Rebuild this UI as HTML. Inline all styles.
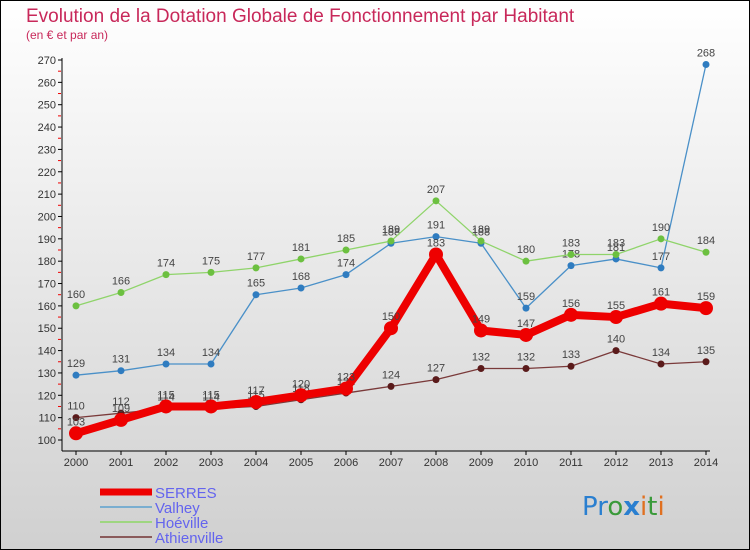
<!DOCTYPE html>
<html><head><meta charset="utf-8"><style>
body{margin:0;width:750px;height:550px;overflow:hidden;font-family:"Liberation Sans",sans-serif}
svg{display:block}
</style></head><body>
<svg id="c" width="750" height="550" xmlns="http://www.w3.org/2000/svg">
<defs><linearGradient id="bg" x1="0" y1="0" x2="0" y2="1"><stop offset="0" stop-color="#ffffff"/><stop offset="1" stop-color="#d0d0d0"/></linearGradient></defs>
<rect x="0.5" y="0.5" width="749" height="549" fill="url(#bg)" stroke="#000"/>
<text x="26" y="22" font-size="19" fill="#c8285a">Evolution de la Dotation Globale de Fonctionnement par Habitant</text>
<text x="26" y="39" font-size="12" fill="#c8285a">(en € et par an)</text>
<g id="axes"></g><g id="series"></g><g id="legend"></g>
<text x="582" y="515" font-size="26" font-family="DejaVu Sans"><tspan fill="#2a7fd0">Pr</tspan><tspan fill="#3a9a3a">o</tspan><tspan fill="#2a7fd0" font-weight="bold">x</tspan><tspan fill="#e07020">i</tspan><tspan fill="#3a9a3a">t</tspan><tspan fill="#e07020">i</tspan></text>
</svg>
<script>
const years=[2000,2001,2002,2003,2004,2005,2006,2007,2008,2009,2010,2011,2012,2013,2014];
const serres=[103,109,115,115,117,120,123,150,183,149,147,156,155,161,159];
const valhey=[129,131,134,134,165,168,174,188,191,188,159,178,181,177,268];
const hoeville=[160,166,174,175,177,181,185,189,207,189,180,183,183,190,184];
const athienville=[110,112,114,114,115,118,121,124,127,132,132,133,140,134,135];
const yTicks=[100,110,120,130,140,150,160,170,180,190,200,210,220,230,240,250,260,270];
const NS='http://www.w3.org/2000/svg';
const x=i=>76+i*45, y=v=>440-(v-100)*380/170;
function mk(t,a,p){const e=document.createElementNS(NS,t);for(const k in a)e.setAttribute(k,a[k]);p.appendChild(e);return e;}
const ax=document.getElementById('axes');
mk('line',{x1:62,y1:58,x2:62,y2:451,stroke:'#000'},ax);
mk('line',{x1:62,y1:451,x2:710,y2:451,stroke:'#000'},ax);
yTicks.forEach(v=>{mk('line',{x1:58,y1:y(v),x2:62,y2:y(v),stroke:'#000'},ax);
 if(v<270) mk('line',{x1:58,y1:y(v+5),x2:61,y2:y(v+5),stroke:'#e00'},ax);
 const t=mk('text',{x:56,y:y(v)+4,'font-size':11,fill:'#333','text-anchor':'end'},ax);t.textContent=v;
 
 });
years.forEach((yr,i)=>{mk('line',{x1:x(i),y1:451,x2:x(i),y2:455,stroke:'#000'},ax);
 const t=mk('text',{x:x(i),y:466,'font-size':11,fill:'#333','text-anchor':'middle'},ax);t.textContent=yr;
 
 });
const sg=document.getElementById('series');
const defs=[['valhey',valhey,'#4a90c8','#2f7cc0',1.3,3.5],['hoeville',hoeville,'#8fd46a','#6cc040',1.3,3.5],['athienville',athienville,'#7a3a3a','#5a1a1a',1.3,3.5],['serres',serres,'#ee0000','#ee0000',8,7]];
defs.forEach(([n,d,c,mc,w,r])=>{
 const g=mk('g',{},sg);
 
 
 mk('polyline',{points:d.map((v,i)=>x(i)+','+y(v)).join(' '),fill:'none',stroke:c,'stroke-width':w,'stroke-linejoin':'round'},g);
 d.forEach((v,i)=>{const p=mk('circle',{cx:x(i),cy:y(v),r:r,fill:mc},g);
  
  
  const t=mk('text',{x:x(i),y:y(v)-8,'font-size':11,fill:'#444','text-anchor':'middle'},g);t.textContent=v;
  
  });
});
const lg=document.getElementById('legend');
const L=[['SERRES','#ee0000',7],['Valhey','#7aaed0',2],['Hoéville','#9ed680',2],['Athienville','#8a5a5a',2]];
L.forEach(([n,c,w],i)=>{const yy=492+i*15;
 const g=mk('g',{},lg);
 
 
 mk('line',{x1:100,y1:yy,x2:152,y2:yy,stroke:c,'stroke-width':w},g);
 const t=mk('text',{x:155,y:yy+6,'font-size':15,fill:'#6464ee'},g);t.textContent=n;});
</script>
</body></html>
